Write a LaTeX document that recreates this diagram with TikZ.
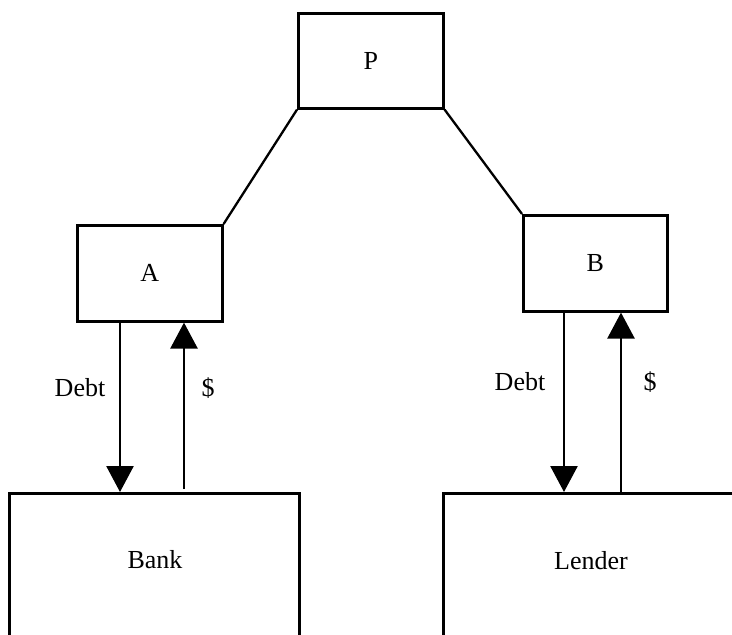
\documentclass[tikz,border=0pt]{standalone}
\usepackage{fontspec}
\setmainfont{Liberation Serif}
\usetikzlibrary{arrows.meta}
\begin{document}
\begin{tikzpicture}[x=1pt,y=-1pt,
  box/.style={draw, line width=2.6pt, rectangle, inner sep=0pt, anchor=north west},
  lbl/.style={font=\fontsize{26}{30}\selectfont, inner sep=0pt},
  arr/.style={line width=2.6pt, -{Triangle[width=27pt,length=26pt]}},
  conn/.style={line width=2.3pt}]
\clip (0,0) rectangle (732,635);
\fill[white] (0,0) rectangle (732,635);
\node[box, minimum width=145pt, minimum height=95pt, font=\fontsize{26}{30}\selectfont] (P) at (297,12) {P};
\node[box, minimum width=145pt, minimum height=96pt, font=\fontsize{26}{30}\selectfont] (A) at (76,224) {A};
\node[box, minimum width=144pt, minimum height=96pt, font=\fontsize{26}{30}\selectfont] (B) at (522,214) {B};
\node[box, minimum width=290pt, minimum height=220pt] (Bank) at (8,492) {};
\node[box, minimum width=360pt, minimum height=220pt] (Lender) at (442,492) {};
\node[lbl] (banktext) at (155,560) {Bank};
\node[lbl] (lendertext) at (591,561) {Lender};
\draw[conn] (P.south west) -- (A.north east);
\draw[conn] (P.south east) -- (B.north west);
\draw[arr] ([xshift=44pt]A.south west) -- ([xshift=44pt]A.south west |- Bank.north);
\draw[arr] ([xshift=108pt,yshift=3pt]A.south west |- Bank.north) -- ([xshift=108pt]A.south west);
\draw[arr] ([xshift=42pt]B.south west) -- ([xshift=42pt]B.south west |- Lender.north);
\draw[arr] ([xshift=99pt]B.south west |- Lender.north) -- ([xshift=99pt]B.south west);
\node[lbl] (debtA) at (80,388) {Debt};
\node[lbl] (dolA) at (208,388) {\$};
\node[lbl] (debtB) at (520,382) {Debt};
\node[lbl] (dolB) at (650,382) {\$};
\end{tikzpicture}
\end{document}
